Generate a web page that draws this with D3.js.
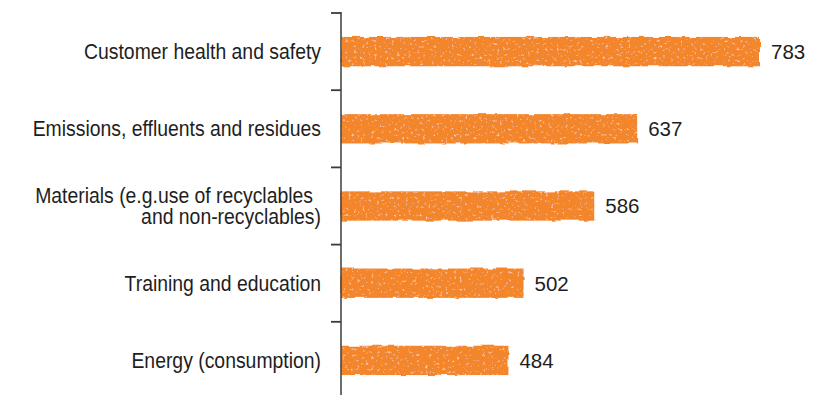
<!DOCTYPE html>
<html>
<head>
<meta charset="utf-8">
<script src="https://cdn.jsdelivr.net/npm/d3@7"></script>
<style>
  html, body { margin: 0; padding: 0; background: #fff; }
  svg { display: block; }
  .cat { font-family: "Liberation Sans", Arial, sans-serif; font-size: 21.2px; fill: #1e1e1e; }
  .val { font-family: "Liberation Sans", Arial, sans-serif; font-size: 20.5px; fill: #1e1e1e; }
</style>
</head>
<body>
<svg id="chart" width="840" height="395"></svg>
<script>
// Topics and how often each was named
const categories = [
  "Customer health and safety",
  "Emissions, effluents and residues",
  "Materials (e.g.use of recyclables\nand non-recyclables)",
  "Training and education",
  "Energy (consumption)"
];
const values = [783, 637, 586, 502, 484];

const svg = d3.select("#chart");
const H = 395;
const axisX = 341;
const labelRight = 321;
const condense = 0.915;   // narrow letterforms for the category labels

// Hand-drawn look: wobbly edges plus light speckles inside the marker strokes
const defs = svg.append("defs");
const f = defs.append("filter").attr("id", "marker")
  .attr("x", "-3%").attr("y", "-20%").attr("width", "106%").attr("height", "140%");
f.append("feTurbulence").attr("type", "fractalNoise").attr("baseFrequency", "0.08")
  .attr("numOctaves", 2).attr("seed", 4).attr("result", "wob");
f.append("feDisplacementMap").attr("in", "SourceGraphic").attr("in2", "wob")
  .attr("scale", 3.5).attr("xChannelSelector", "R").attr("yChannelSelector", "G").attr("result", "shape");
f.append("feTurbulence").attr("type", "fractalNoise").attr("baseFrequency", "0.35")
  .attr("numOctaves", 2).attr("seed", 11).attr("result", "grain");
f.append("feColorMatrix").attr("in", "grain").attr("type", "matrix")
  .attr("values", "0 0 0 0 1  0 0 0 0 0.87  0 0 0 0 0.74  2.6 0 0 0 -1.62")
  .attr("result", "speck");
f.append("feComposite").attr("in", "speck").attr("in2", "shape").attr("operator", "atop");

const fa = defs.append("filter").attr("id", "pen")
  .attr("x", "-200%").attr("y", "-2%").attr("width", "500%").attr("height", "104%");
fa.append("feTurbulence").attr("type", "fractalNoise").attr("baseFrequency", "0.6")
  .attr("numOctaves", 1).attr("seed", 2).attr("result", "n");
fa.append("feDisplacementMap").attr("in", "SourceGraphic").attr("in2", "n")
  .attr("scale", 1.6).attr("xChannelSelector", "R").attr("yChannelSelector", "G");

const y = d3.scaleBand()
  .domain(categories)
  .range([13, 399])
  .paddingInner(0.62)
  .paddingOuter(0.31);

// Value axis starts above zero; the bars grow from the category axis
const x = d3.scaleLinear()
  .domain([285, 783])
  .range([axisX, 760]);

// Category labels
const labels = svg.append("g")
  .attr("transform", `translate(${labelRight},0) scale(${condense},1)`);
categories.forEach(c => {
  const lines = c.split("\n");
  const cy = y(c) + y.bandwidth() / 2;
  const lh = 21;
  const t = labels.append("text")
    .attr("class", "cat")
    .attr("text-anchor", "end")
    .attr("y", cy - (lines.length - 1) * lh / 2);
  lines.forEach((ln, i) => {
    t.append("tspan")
      .attr("x", i === 0 && lines.length > 1 ? -8 / condense : 0)
      .attr("dy", i === 0 ? "0.36em" : lh)
      .text(ln);
  });
});

// Bars
svg.append("g").attr("filter", "url(#marker)")
  .selectAll("rect")
  .data(categories)
  .join("rect")
  .attr("x", axisX)
  .attr("y", d => y(d))
  .attr("height", y.bandwidth())
  .attr("width", (d, i) => x(values[i]) - axisX)
  .attr("fill", "#F3862B");

// Value labels
svg.append("g").selectAll("text")
  .data(categories)
  .join("text")
  .attr("class", "val")
  .attr("x", (d, i) => x(values[i]) + 11)
  .attr("y", d => y(d) + y.bandwidth() / 2)
  .attr("dy", "0.36em")
  .text((d, i) => values[i]);

// Category axis with ticks at the band boundaries
const ax = svg.append("g").attr("filter", "url(#pen)");
ax.append("line")
  .attr("x1", axisX).attr("x2", axisX)
  .attr("y1", 12).attr("y2", H)
  .attr("stroke", "#4a4a4a").attr("stroke-width", 1.6);
ax.selectAll("line.tick")
  .data(categories)
  .join("line")
  .attr("class", "tick")
  .attr("x1", axisX - 10).attr("x2", axisX)
  .attr("y1", d => y(d) - y.step() * y.paddingInner() / 2)
  .attr("y2", d => y(d) - y.step() * y.paddingInner() / 2)
  .attr("stroke", "#3a3a3a").attr("stroke-width", 1.8);
</script>
</body>
</html>
